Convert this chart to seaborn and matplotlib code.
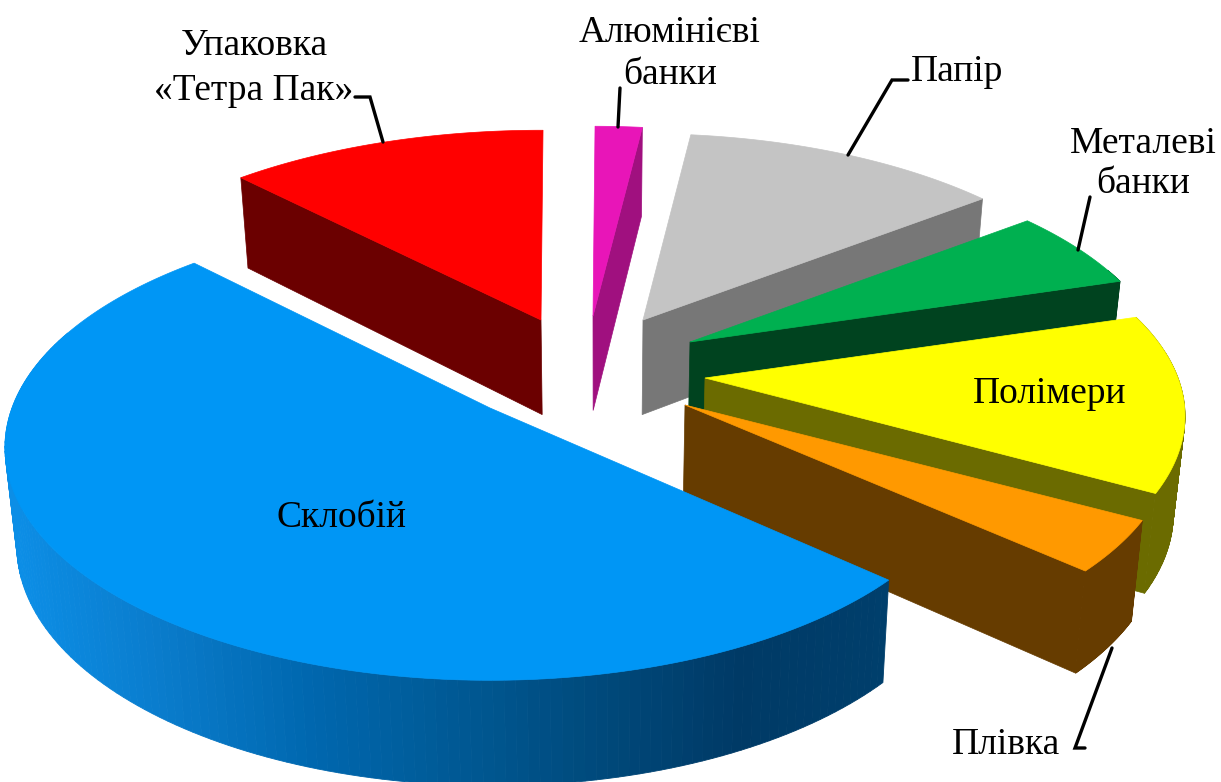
"""Exploded 3D-look pie of packaging shares, drawn as projected polygons."""
import matplotlib
matplotlib.use("Agg")
import matplotlib.pyplot as plt
import numpy as np
import seaborn as sns
from matplotlib.patches import Polygon

# drawn back to front, clockwise from the upper left
categories = ["Упаковка «Тетра Пак»", "Алюмінієві банки", "Папір", "Металеві банки",
              "Полімери", "Плівка", "Склобій"]
shares = [12.3, 1.8, 12.6, 5.8, 12.8, 3.7, 51.0]

top_colors = ["#ff0000", "#e815b8", "#c4c4c4", "#00b050", "#ffff00", "#ff9900", "#0096f5"]
wall_colors = ["#6b0000", "#a0107f", "#777777", "#00431f", "#6b6b00", "#663c00", "#004a80"]
rim_stops = ["#0c8ee6", "#0a7ccc", "#0068b0", "#005a96", "#004a7c", "#003a66", "#003f6c"]

# where each exploded slice has its tip in the picture, and its radii
tips = [(541, 320), (593, 316), (643, 320), (690, 342), (705, 378), (685, 405), (490, 408)]
radius_x = [485, 490, 475, 472, 473, 480, 478]
radius_y = [222, 222, 218, 218, 218, 218, 226]

START_ANGLE = 134
PERSPECTIVE = 0.17
DEPTH = 97

sns.set_theme(style="white")
plt.rcParams["font.family"] = ["Liberation Serif", "DejaVu Serif"]


def project(tip, rx, ry, angles):
    """Plane angles (deg) to picture coordinates, nearer points come out larger."""
    t = np.radians(angles)
    w = 1 + PERSPECTIVE * np.sin(t)
    return tip[0] + rx * np.cos(t) / w, tip[1] - ry * np.sin(t) / w


def lower(x, y):
    """The same points on the underside of the pie."""
    return 600 + (x - 600) * 0.98, y + DEPTH + (y - 400) * 0.03


def draw_slice(ax, idx, a0, a1):
    tip = tips[idx]
    angles = np.linspace(a0, a1, 160)
    x, y = project(tip, radius_x[idx], radius_y[idx], angles)
    xb, yb = lower(x, y)
    tx, ty = float(tip[0]), float(tip[1])
    txb, tyb = lower(tx, ty)

    # radial walls, only the ones facing the viewer
    if np.cos(np.radians(a0)) < -0.05:
        ax.add_patch(Polygon([(tx, ty), (x[0], y[0]), (xb[0], yb[0]), (txb, tyb)],
                             fc=wall_colors[idx], ec=wall_colors[idx], lw=0.5))
    if np.cos(np.radians(a1)) > 0.05:
        ax.add_patch(Polygon([(tx, ty), (x[-1], y[-1]), (xb[-1], yb[-1]), (txb, tyb)],
                             fc=wall_colors[idx], ec=wall_colors[idx], lw=0.5))

    # rim, with a shading run across the big slice
    if categories[idx] == "Склобій":
        ramp = sns.blend_palette(rim_stops, 256)
        shades = [ramp[int(np.clip((v - 12) / 878, 0, 1) * 255)] for v in x]
    else:
        shades = [wall_colors[idx]] * len(x)
    for i in range(len(x) - 1):
        if np.sin(np.radians(angles[i])) > 0.35:
            continue
        ax.add_patch(Polygon([(x[i], y[i]), (x[i + 1], y[i + 1]), (xb[i + 1], yb[i + 1]), (xb[i], yb[i])],
                             fc=shades[i], ec=shades[i], lw=0.6))

    ax.add_patch(Polygon(np.column_stack([np.r_[tx, x], np.r_[ty, y]]),
                         fc=top_colors[idx], ec=top_colors[idx], lw=0.5))


fig = plt.figure(figsize=(12.21, 7.82), dpi=100)
ax = fig.add_axes([0, 0, 1, 1])
ax.set_xlim(0, 1221)
ax.set_ylim(782, 0)
ax.axis("off")

angle = START_ANGLE
for idx, share in enumerate(shares):
    sweep = share * 3.6
    draw_slice(ax, idx, angle, angle - sweep)
    angle -= sweep

# leader lines
leaders = [
    [(355, 97), (370, 97), (383, 142)],
    [(620, 88), (618, 127)],
    [(908, 80), (892, 80), (848, 155)],
    [(1090, 197), (1078, 250)],
    [(1085, 748), (1075, 748), (1112, 648)],
]
for line in leaders:
    ax.plot(*zip(*line), color="black", lw=2.4, solid_joinstyle="miter")

labels = [
    ("Упаковка", 254, 46), ("«Тетра Пак»", 254, 91),
    ("Алюмінієві", 670, 33), ("банки", 670, 75),
    ("Папір", 957, 72),
    ("Металеві", 1143, 144), ("банки", 1143, 184),
    ("Полімери", 1050, 394),
    ("Склобій", 341, 518),
    ("Плівка", 1006, 745),
]
for text, lx, ly in labels:
    ax.text(lx, ly, text, fontsize=27, color="black", ha="center", va="center")

fig.savefig("out.png", dpi=100)
